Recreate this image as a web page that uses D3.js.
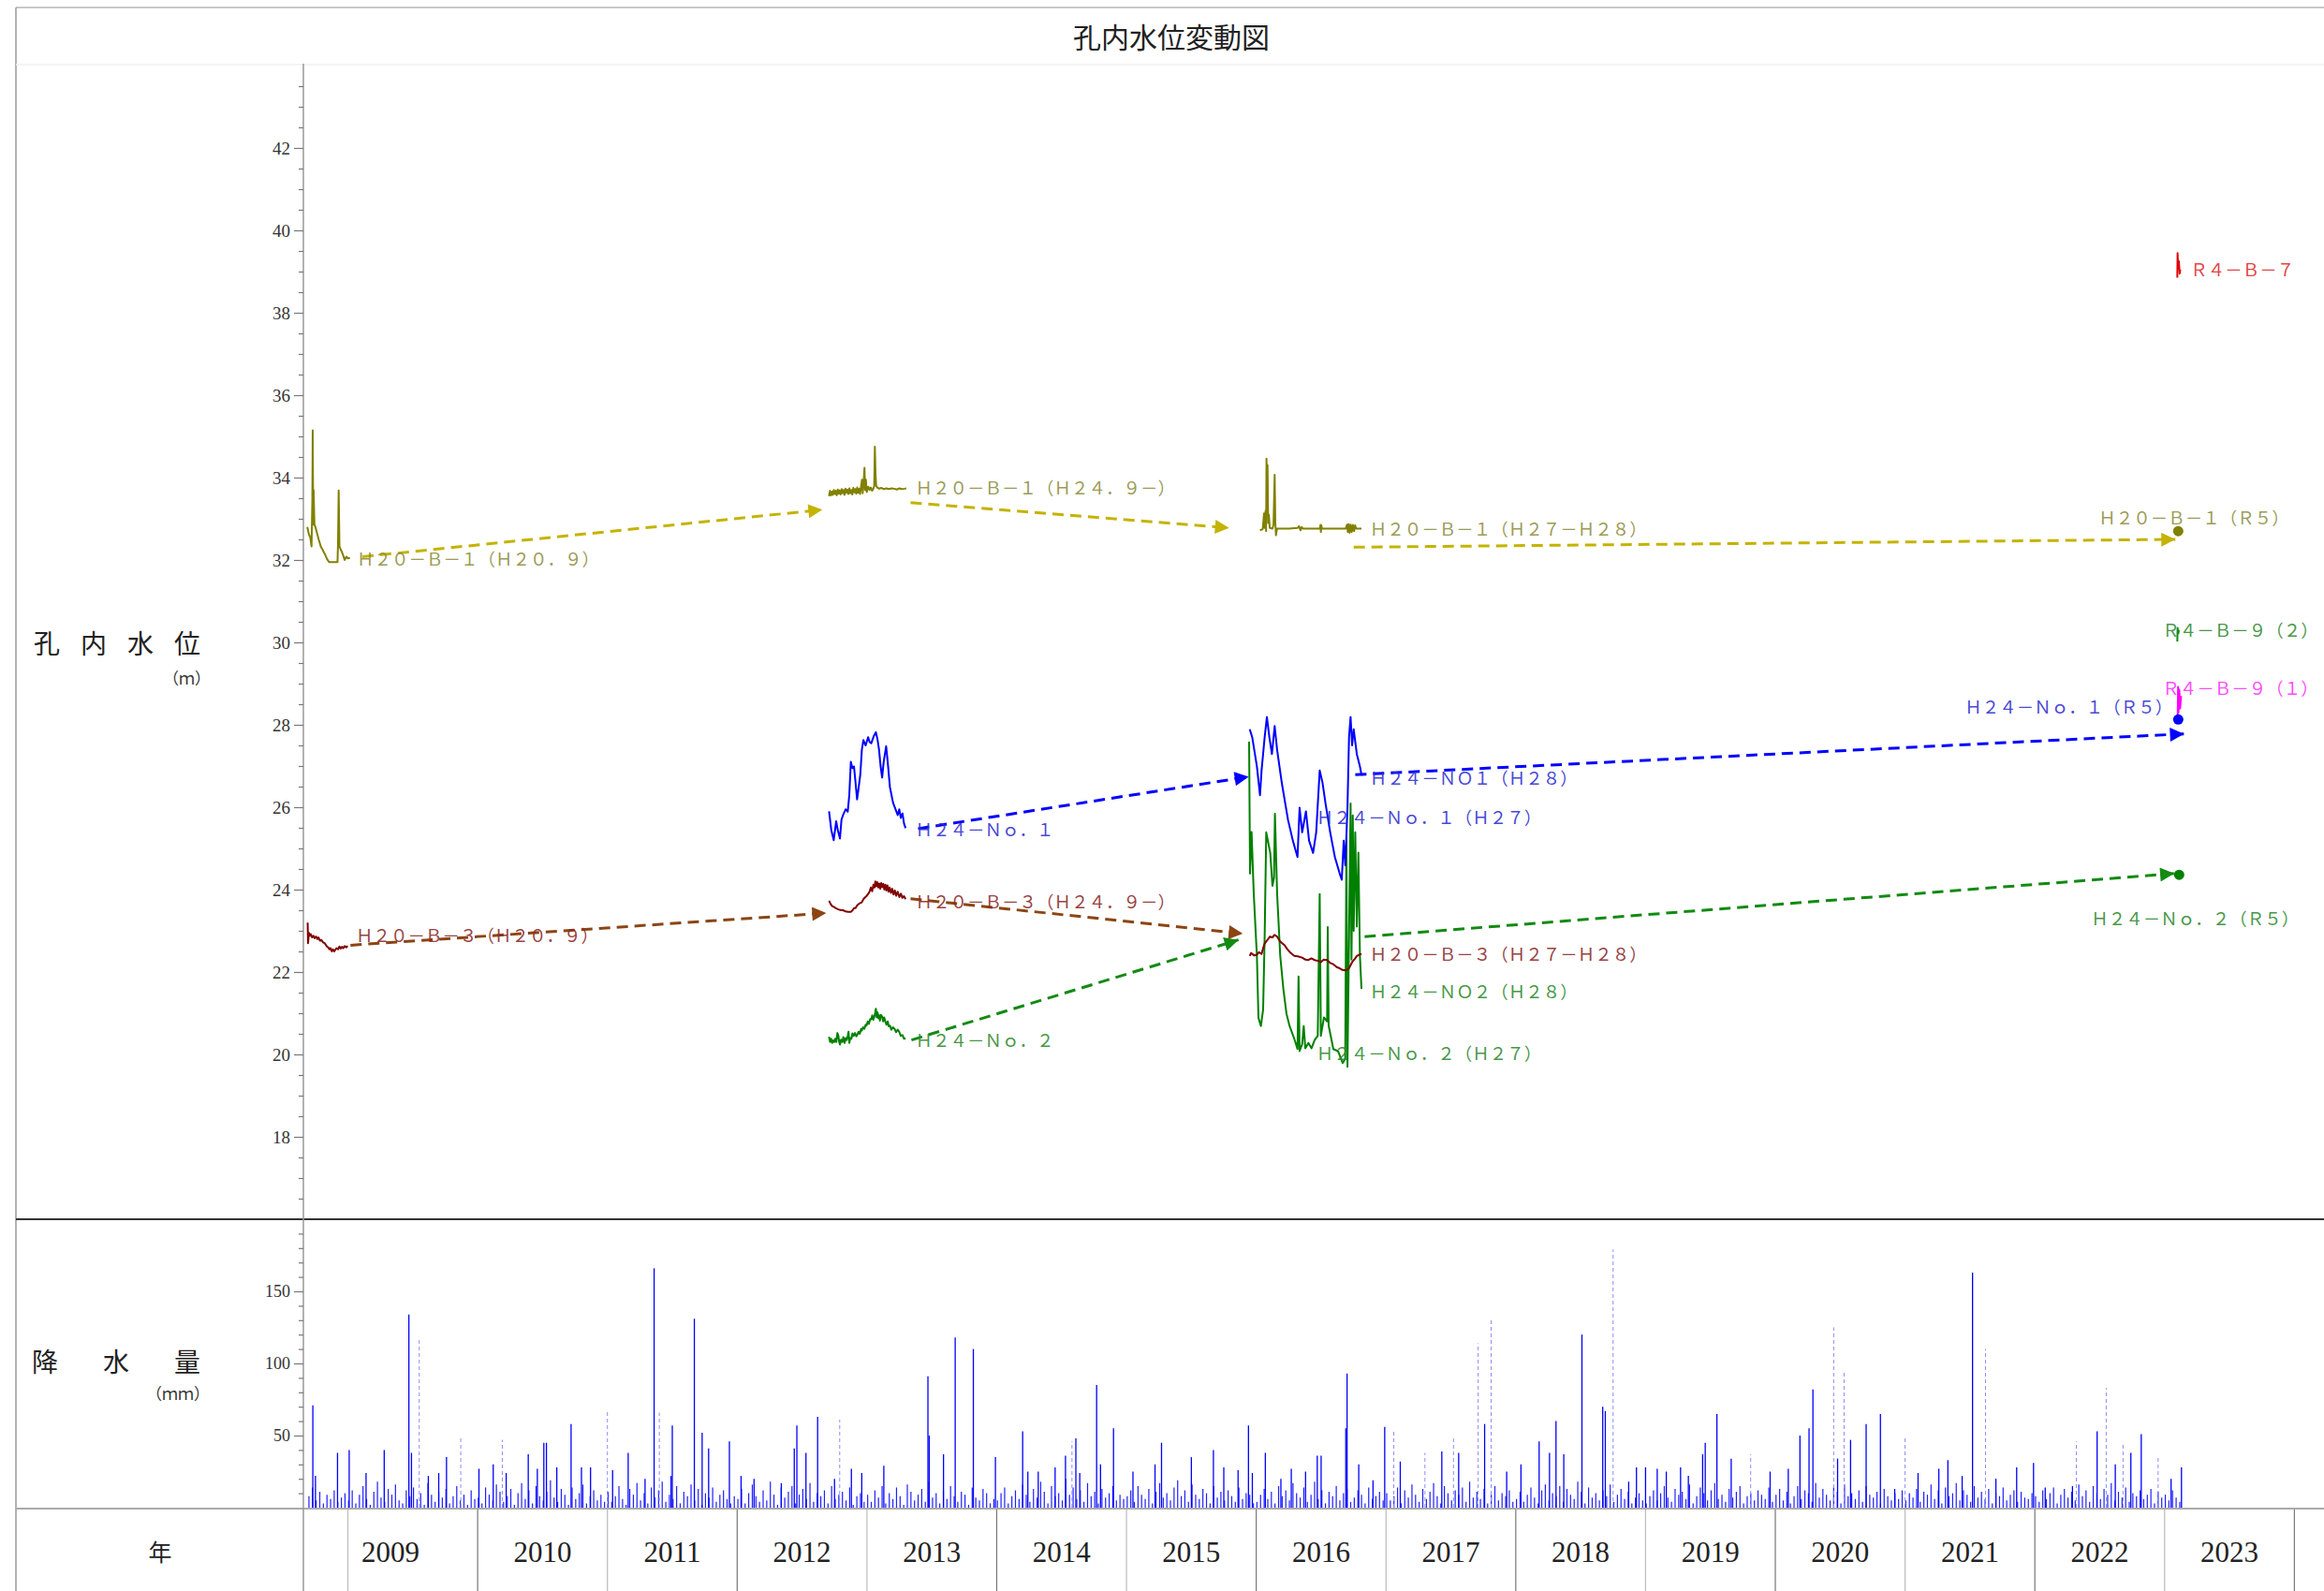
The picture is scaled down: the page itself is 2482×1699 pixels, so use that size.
<!DOCTYPE html>
<html><head><meta charset="utf-8">
<script src="https://cdn.jsdelivr.net/npm/d3@7"></script>
<style>
html,body{margin:0;padding:0;background:#fff;}
svg{display:block;}
</style></head><body>
<svg id="c" width="2482" height="1699"></svg>
<script>
// ---------------- DATA ----------------
const yearLabels = [2009,2010,2011,2012,2013,2014,2015,2016,2017,2018,2019,2020,2021,2022,2023];
const levelTicks = [18,20,22,24,26,28,30,32,34,36,38,40,42];
const rainTicks = [50,100,150];

// water level series [decimal year, m]
const wlB1_H20 = [[2008.687,32.80],[2008.700,32.62],[2008.710,32.55],[2008.720,32.33],[2008.726,33.46],[2008.729,35.15],[2008.733,32.86],[2008.736,33.70],[2008.742,32.86],[2008.750,32.80],[2008.758,32.70],[2008.775,32.50],[2008.791,32.33],[2008.805,32.25],[2008.823,32.14],[2008.840,32.02],[2008.855,31.95],[2008.920,31.95],[2008.924,32.40],[2008.929,33.69],[2008.935,32.33],[2008.945,32.25],[2008.953,32.20],[2008.965,32.10],[2008.975,32.00],[2008.988,32.08],[2009.000,32.04],[2009.016,32.05]];
const wlB1_H24 = [[2012.708,33.55],[2012.715,33.68],[2012.722,33.57],[2012.730,33.66],[2012.737,33.58],[2012.745,33.70],[2012.752,33.60],[2012.760,33.68],[2012.767,33.57],[2012.775,33.71],[2012.782,33.61],[2012.790,33.69],[2012.797,33.59],[2012.805,33.72],[2012.812,33.62],[2012.820,33.70],[2012.827,33.58],[2012.835,33.73],[2012.842,33.63],[2012.850,33.71],[2012.857,33.60],[2012.865,33.74],[2012.872,33.62],[2012.880,33.70],[2012.887,33.59],[2012.895,33.75],[2012.902,33.64],[2012.910,33.72],[2012.917,33.61],[2012.925,33.76],[2012.932,33.63],[2012.940,33.73],[2012.947,33.60],[2012.955,33.80],[2012.962,33.95],[2012.967,33.62],[2012.974,33.85],[2012.981,34.24],[2012.986,33.70],[2012.992,33.95],[2012.998,33.65],[2013.010,33.78],[2013.020,33.70],[2013.030,33.76],[2013.040,33.68],[2013.050,33.74],[2013.056,33.80],[2013.061,34.75],[2013.066,34.10],[2013.071,33.80],[2013.080,33.76],[2013.095,33.73],[2013.110,33.75],[2013.130,33.72],[2013.150,33.74],[2013.170,33.72],[2013.190,33.74],[2013.210,33.73],[2013.230,33.71],[2013.250,33.74],[2013.270,33.72],[2013.290,33.73],[2013.303,33.74]];
const wlB1_H27 = [[2016.029,32.72],[2016.050,32.75],[2016.060,33.13],[2016.065,32.78],[2016.072,33.20],[2016.076,32.70],[2016.079,34.46],[2016.083,33.60],[2016.087,34.30],[2016.092,32.90],[2016.097,33.10],[2016.104,32.78],[2016.125,32.76],[2016.133,32.85],[2016.142,34.07],[2016.147,32.90],[2016.152,32.60],[2016.160,32.76],[2016.250,32.76],[2016.320,32.78],[2016.330,32.82],[2016.341,32.72],[2016.350,32.80],[2016.360,32.76],[2016.490,32.76],[2016.495,32.85],[2016.498,32.68],[2016.502,32.84],[2016.506,32.76],[2016.690,32.76],[2016.700,32.86],[2016.706,32.68],[2016.712,32.87],[2016.720,32.66],[2016.728,32.86],[2016.736,32.68],[2016.745,32.85],[2016.754,32.70],[2016.762,32.84],[2016.770,32.76],[2016.811,32.76]];
const wlN1_H24 = [[2012.708,25.90],[2012.725,25.45],[2012.744,25.20],[2012.763,25.66],[2012.775,25.45],[2012.792,25.24],[2012.804,25.70],[2012.816,25.81],[2012.836,25.95],[2012.852,25.89],[2012.864,26.30],[2012.876,27.10],[2012.888,26.95],[2012.900,26.99],[2012.912,26.60],[2012.924,26.19],[2012.937,26.50],[2012.949,26.80],[2012.961,27.40],[2012.973,27.63],[2012.990,27.50],[2013.009,27.70],[2013.021,27.58],[2013.033,27.55],[2013.052,27.72],[2013.069,27.82],[2013.081,27.65],[2013.093,27.40],[2013.105,27.00],[2013.117,26.72],[2013.129,27.10],[2013.148,27.48],[2013.160,27.10],[2013.177,26.49],[2013.189,26.30],[2013.201,26.11],[2013.220,25.95],[2013.237,25.81],[2013.249,25.95],[2013.261,25.74],[2013.274,25.85],[2013.286,25.60],[2013.298,25.49]];
const wlN1_H27 = [[2015.950,27.89],[2015.969,27.70],[2016.005,26.99],[2016.029,26.29],[2016.041,26.89],[2016.065,27.70],[2016.082,28.19],[2016.101,27.70],[2016.121,27.29],[2016.142,27.97],[2016.161,27.39],[2016.197,26.59],[2016.245,25.69],[2016.282,25.19],[2016.318,24.79],[2016.334,25.99],[2016.354,25.39],[2016.383,25.90],[2016.407,25.19],[2016.438,24.89],[2016.462,25.39],[2016.489,26.89],[2016.511,26.59],[2016.534,26.09],[2016.570,25.39],[2016.606,24.79],[2016.643,24.39],[2016.659,24.24],[2016.674,25.19],[2016.686,24.59],[2016.703,25.99],[2016.715,27.70],[2016.727,28.19],[2016.739,27.50],[2016.751,27.89],[2016.775,27.29],[2016.799,26.99],[2016.811,26.79],[2016.823,26.79]];
const wlB3_H20 = [[2008.690,23.20],[2008.693,22.70],[2008.700,22.95],[2008.708,22.88],[2008.715,22.92],[2008.725,22.84],[2008.735,22.88],[2008.744,22.82],[2008.755,22.86],[2008.765,22.80],[2008.773,22.84],[2008.785,22.76],[2008.795,22.78],[2008.809,22.72],[2008.820,22.70],[2008.830,22.66],[2008.838,22.62],[2008.848,22.60],[2008.858,22.55],[2008.866,22.58],[2008.876,22.50],[2008.885,22.55],[2008.895,22.50],[2008.903,22.54],[2008.912,22.58],[2008.924,22.55],[2008.935,22.62],[2008.945,22.57],[2008.955,22.61],[2008.965,22.58],[2008.975,22.63],[2008.987,22.60],[2008.999,22.63]];
const wlB3_H24 = [[2012.708,23.73],[2012.720,23.65],[2012.732,23.60],[2012.744,23.58],[2012.760,23.55],[2012.780,23.52],[2012.800,23.50],[2012.816,23.50],[2012.835,23.47],[2012.855,23.46],[2012.876,23.46],[2012.890,23.50],[2012.900,23.55],[2012.912,23.55],[2012.925,23.62],[2012.940,23.66],[2012.960,23.69],[2012.975,23.78],[2012.988,23.82],[2012.996,23.84],[2013.010,23.90],[2013.020,23.95],[2013.030,24.05],[2013.040,23.96],[2013.050,24.12],[2013.058,24.05],[2013.065,24.20],[2013.072,24.08],[2013.080,24.18],[2013.088,24.05],[2013.095,24.15],[2013.103,24.02],[2013.110,24.16],[2013.118,24.06],[2013.126,24.14],[2013.134,24.00],[2013.142,24.12],[2013.150,23.98],[2013.158,24.10],[2013.166,23.95],[2013.175,24.05],[2013.185,23.92],[2013.195,24.02],[2013.205,23.88],[2013.215,23.98],[2013.225,23.85],[2013.237,23.95],[2013.250,23.82],[2013.262,23.90],[2013.273,23.80],[2013.285,23.84],[2013.298,23.77]];
const wlB3_H27 = [[2015.950,22.39],[2015.960,22.46],[2015.969,22.44],[2015.985,22.40],[2016.005,22.42],[2016.020,22.48],[2016.041,22.44],[2016.055,22.60],[2016.065,22.69],[2016.077,22.74],[2016.089,22.79],[2016.105,22.86],[2016.125,22.84],[2016.140,22.90],[2016.161,22.86],[2016.172,22.80],[2016.185,22.74],[2016.200,22.70],[2016.221,22.64],[2016.238,22.56],[2016.257,22.49],[2016.275,22.44],[2016.293,22.39],[2016.320,22.38],[2016.354,22.35],[2016.380,22.30],[2016.402,22.29],[2016.425,22.33],[2016.450,22.29],[2016.475,22.27],[2016.498,22.24],[2016.520,22.30],[2016.546,22.29],[2016.570,22.22],[2016.594,22.19],[2016.620,22.12],[2016.643,22.09],[2016.665,22.05],[2016.691,22.04],[2016.715,22.09],[2016.739,22.24],[2016.760,22.32],[2016.775,22.39],[2016.795,22.42],[2016.811,22.44]];
const wlN2_H24 = [[2012.708,20.43],[2012.716,20.30],[2012.724,20.38],[2012.732,20.28],[2012.740,20.34],[2012.748,20.30],[2012.756,20.38],[2012.764,20.30],[2012.772,20.52],[2012.780,20.45],[2012.786,20.30],[2012.792,20.24],[2012.800,20.36],[2012.810,20.30],[2012.818,20.42],[2012.828,20.28],[2012.836,20.40],[2012.844,20.35],[2012.852,20.45],[2012.858,20.55],[2012.864,20.28],[2012.872,20.40],[2012.880,20.38],[2012.888,20.51],[2012.898,20.45],[2012.908,20.52],[2012.918,20.44],[2012.925,20.47],[2012.935,20.55],[2012.945,20.50],[2012.955,20.62],[2012.961,20.58],[2012.970,20.66],[2012.980,20.62],[2012.990,20.72],[2012.997,20.70],[2013.006,20.80],[2013.015,20.74],[2013.025,20.86],[2013.033,20.85],[2013.041,20.95],[2013.049,20.84],[2013.057,20.92],[2013.063,21.00],[2013.069,21.11],[2013.075,20.90],[2013.082,21.02],[2013.088,20.88],[2013.093,20.95],[2013.100,20.82],[2013.108,20.96],[2013.117,20.92],[2013.125,20.80],[2013.133,20.90],[2013.141,20.81],[2013.150,20.72],[2013.160,20.80],[2013.168,20.68],[2013.177,20.70],[2013.188,20.60],[2013.200,20.66],[2013.213,20.62],[2013.225,20.54],[2013.237,20.60],[2013.249,20.55],[2013.260,20.45],[2013.274,20.47],[2013.286,20.38],[2013.298,20.39]];
const wlN2_H27 = [[2015.945,27.59],[2015.952,24.39],[2015.964,25.40],[2015.981,23.89],[2016.005,22.39],[2016.017,20.89],[2016.036,20.69],[2016.053,21.09],[2016.065,22.89],[2016.077,25.39],[2016.089,25.20],[2016.108,24.89],[2016.125,24.09],[2016.137,24.29],[2016.144,25.84],[2016.161,23.89],[2016.185,22.39],[2016.209,21.59],[2016.233,20.99],[2016.257,20.69],[2016.293,20.38],[2016.318,20.13],[2016.326,21.89],[2016.334,20.08],[2016.354,20.25],[2016.366,20.69],[2016.378,20.15],[2016.402,20.28],[2016.426,20.15],[2016.450,20.35],[2016.474,20.45],[2016.489,23.89],[2016.498,20.45],[2016.522,20.90],[2016.546,20.80],[2016.551,23.09],[2016.558,20.70],[2016.594,20.13],[2016.630,20.08],[2016.666,19.79],[2016.686,19.90],[2016.695,25.29],[2016.703,19.70],[2016.715,22.80],[2016.727,26.09],[2016.734,22.30],[2016.744,25.80],[2016.751,23.00],[2016.763,25.39],[2016.775,23.10],[2016.787,24.90],[2016.799,22.39],[2016.811,21.59]];
const wlB7_R4 = [[2023.098,38.85],[2023.100,39.45],[2023.104,39.10],[2023.110,39.25],[2023.116,38.95],[2023.121,39.05]];
const wlB9b_R4 = [[2023.098,30.02],[2023.100,30.35],[2023.106,30.22],[2023.110,30.30]];
const wlB9a_R4 = [[2023.101,28.20],[2023.104,28.92],[2023.107,28.30],[2023.113,28.85],[2023.120,28.40],[2023.127,28.70]];

// R5 single readings
const dotB1_R5 = [2023.105, 32.70];
const dotN1_R5 = [2023.105, 28.13];
const dotN2_R5 = [2023.112, 24.36];

// dashed arrows [from, to]
const arrowsB1 = [[[2009.112,32.08],[2012.657,33.22]],[[2013.336,33.39],[2015.791,32.78]],[[2016.751,32.31],[2023.083,32.50]]];
const arrowsB3 = [[[2009.020,22.65],[2012.686,23.43]],[[2013.336,23.78],[2015.896,22.93]]];
const arrowsN2 = [[[2013.343,20.35],[2015.863,22.78]],[[2016.835,22.86],[2023.074,24.39]]];
const arrowsN1 = [[[2013.394,25.48],[2015.942,26.74]],[[2016.763,26.79],[2023.150,27.78]]];

// labels
const labelTexts = ["Ｈ２０－Ｂ－１（Ｈ２０．９）","Ｈ２０－Ｂ－１（Ｈ２４．９－）","Ｈ２０－Ｂ－１（Ｈ２７－Ｈ２８）","Ｈ２０－Ｂ－１（Ｒ５）","Ｒ４－Ｂ－７","Ｒ４－Ｂ－９（２）","Ｒ４－Ｂ－９（１）","Ｈ２４－Ｎｏ．１（Ｒ５）","Ｈ２４－Ｎｏ．１","Ｈ２４－ＮＯ１（Ｈ２８）","Ｈ２４－Ｎｏ．１（Ｈ２７）","Ｈ２０－Ｂ－３（Ｈ２０．９）","Ｈ２０－Ｂ－３（Ｈ２４．９－）","Ｈ２０－Ｂ－３（Ｈ２７－Ｈ２８）","Ｈ２４－ＮＯ２（Ｈ２８）","Ｈ２４－Ｎｏ．２（Ｈ２７）","Ｈ２４－Ｎｏ．２","Ｈ２４－Ｎｏ．２（Ｒ５）"];
const labelAt = [[2009.069,32.04],[2013.372,33.77],[2016.874,32.77],[2022.491,33.04],[2023.199,39.06],[2022.982,30.31],[2022.982,28.91],[2023.061,28.45],[2013.372,25.47],[2016.874,26.72],[2016.462,25.77],[2009.061,22.90],[2013.372,23.73],[2016.874,22.45],[2016.874,21.55],[2016.462,20.04],[2013.372,20.36],[2022.433,23.31]];
const labelKind = ["B1","B1","B1","B1","B7","B9b","B9a","N1end","N1","N1","N1","B3","B3","B3","N2","N2","N2","N2"];

// precipitation (mm): small bars roughly every 10 days from 2008.70
const rainSmallStart = 2008.70;
const rainSmall = [8,14,5,11,3,9,6,12,4,7,10,
5,12,3,9,15,6,2,11,18,7,4,13,9,16,5,3,12,8,14,6,10,2,17,9,4,11,7,13,3,8,15,5,9,2,12,6,
7,3,14,9,5,16,11,4,8,13,2,10,17,6,12,3,15,8,5,11,19,7,4,13,9,2,14,6,10,16,3,8,12,5,9,4,
11,4,8,15,6,2,13,9,17,5,10,3,14,7,12,18,4,9,6,15,3,11,8,16,5,13,2,10,7,14,4,9,12,6,3,8,
6,13,3,10,16,8,4,12,5,18,9,2,14,7,11,15,3,9,13,6,17,4,10,8,12,3,15,6,9,11,5,14,2,8,10,4,
9,4,12,7,15,3,10,6,14,8,2,16,11,5,9,13,4,18,7,10,3,12,6,15,8,4,11,9,2,14,7,5,13,10,3,6,
5,10,14,3,8,12,6,16,9,4,13,7,18,11,3,15,8,10,5,20,9,14,6,12,4,17,8,11,3,13,7,10,15,5,9,6,
8,12,4,15,9,6,13,3,11,17,7,10,5,14,19,8,12,4,16,9,6,13,10,3,15,7,11,5,12,8,4,14,6,10,9,3,
4,9,13,6,11,3,15,8,12,5,17,10,7,14,4,9,18,6,12,3,11,8,15,5,10,13,4,7,12,9,3,14,6,8,11,5,
10,5,8,14,3,12,7,16,9,4,13,6,11,17,8,3,15,10,5,12,9,14,4,18,7,11,6,13,3,9,15,5,10,8,12,4,
6,11,4,9,14,7,3,12,16,5,10,8,15,4,13,9,6,18,11,3,14,7,10,5,12,8,16,4,9,13,6,11,3,7,10,5,
3,8,12,5,10,15,7,4,13,9,11,6,16,3,8,14,10,5,12,17,6,9,4,13,7,11,15,3,8,10,5,12,9,6,14,4,
9,13,5,11,3,8,15,6,12,10,4,17,7,13,9,5,14,11,3,16,8,10,6,12,4,15,9,7,11,3,13,8,5,10,6,12,
5,10,7,13,4,11,9,16,6,12,3,14,8,10,17,5,12,9,4,15,7,11,6,13,3,10,8,14,5,9,12,4,11,7,6,10,
8,4,12,6,10,14,3,9,13,7,11,5,16,8,12,4,15,10,6,13,9,17,5,11,7,14,4,10,8,12,6,9,13,3,11,7,
9,5,12,7,4];
// main gauge peaks [decimal year, mm]
const rainPeaks = [[2008.73,71],[2008.75,22],[2008.92,38],
[2009.01,40],[2009.14,24],[2009.28,40],[2009.47,134],[2009.49,38],[2009.62,22],[2009.70,24],[2009.76,35],
[2010.01,27],[2010.12,30],[2010.22,24],[2010.39,37],[2010.46,27],[2010.51,45],[2010.53,45],[2010.61,28],[2010.72,58],[2010.80,28],[2010.87,28],
[2011.04,26],[2011.16,38],[2011.29,20],[2011.36,166],[2011.49,22],[2011.50,57],[2011.67,131],[2011.73,52],[2011.78,41],[2011.94,46],
[2012.03,22],[2012.13,20],[2012.34,17],[2012.44,41],[2012.46,57],[2012.53,38],[2012.62,63],[2012.75,20],[2012.88,27],[2012.96,24],
[2013.13,29],[2013.47,91],[2013.48,50],[2013.59,37],[2013.68,118],[2013.82,110],[2013.99,35],
[2014.20,53],[2014.24,25],[2014.32,25],[2014.45,28],[2014.53,36],[2014.61,48],[2014.64,24],[2014.77,85],[2014.80,30],[2014.90,55],
[2015.05,25],[2015.22,30],[2015.27,45],[2015.50,35],[2015.67,40],[2015.75,28],[2015.86,26],[2015.94,57],[2015.97,24],
[2016.07,38],[2016.19,20],[2016.27,27],[2016.38,25],[2016.47,36],[2016.50,36],[2016.69,55],[2016.70,93],[2016.79,30],[2016.90,19],[2016.99,56],
[2017.11,32],[2017.43,39],[2017.56,38],[2017.76,58],[2017.93,25],
[2018.04,30],[2018.18,46],[2018.26,38],[2018.31,60],[2018.37,37],[2018.51,120],[2018.67,70],[2018.69,67],[2018.87,18],[2018.93,28],
[2019.00,28],[2019.09,27],[2019.16,25],[2019.27,28],[2019.33,22],[2019.44,37],[2019.46,45],[2019.55,65],[2019.66,34],[2019.96,25],
[2020.10,27],[2020.19,50],[2020.26,55],[2020.29,82],[2020.48,34],[2020.58,47],[2020.70,58],[2020.81,65],[2020.92,13],
[2021.10,24],[2021.26,27],[2021.33,33],[2021.44,22],[2021.52,163],[2021.70,20],[2021.86,28],[2021.99,31],
[2022.08,14],[2022.29,15],[2022.48,53],[2022.62,30],[2022.74,38],[2022.82,51],
[2023.05,20],[2023.13,28]];
// second gauge (drawn light / dashed)
const rainLight = [[2009.55,118],[2009.87,50],[2010.19,47],[2011.00,67],[2011.40,66],[2012.79,61],[2014.58,46],[2017.06,54],[2017.30,38],[2017.52,48],[2017.71,114],[2017.81,130],[2018.75,179],[2019.81,37],[2020.45,125],[2020.53,95],[2021.00,48],[2021.62,110],[2022.32,46],[2022.55,83],[2022.68,45],[2022.95,36]];

// ---------------- DRAW ----------------
const svg = d3.select("#c");
const W = 2482, H = 1699;
const JP = "'Noto Sans CJK JP', sans-serif";
const SERIF = "'Liberation Serif', 'DejaVu Serif', serif";

const x = d3.scaleLinear().domain([2008.657, 2024.25]).range([324, 2485]);
const yW = d3.scaleLinear().domain([16, 44]).range([1302, 70]);
const yR = d3.scaleLinear().domain([0, 200]).range([1610, 1302]);

const col = {
  B1: "#808000", B1a: "#c4b300", B1t: "#8e8e3e",
  B3: "#800000", B3a: "#8b4513", B3t: "#8a2a2a",
  N1: "#0000ff", N1a: "#0000ff", N1t: "#3030d0",
  N2: "#008000", N2a: "#138a13", N2t: "#2e8a2e",
  B7: "#e00000", B7t: "#e02a2a",
  B9a: "#ff00ff", B9at: "#ff33ff",
  B9b: "#138a13", B9bt: "#2e8a2e"
};

// frame
svg.append("line").attr("x1",17).attr("x2",W).attr("y1",8).attr("y2",8).attr("stroke","#c8c8c8").attr("stroke-width",2);
svg.append("line").attr("x1",17).attr("x2",17).attr("y1",8).attr("y2",H).attr("stroke","#999").attr("stroke-width",1.5);
svg.append("line").attr("x1",17).attr("x2",W).attr("y1",69).attr("y2",69).attr("stroke","#f0f0f0").attr("stroke-width",1.5);

// title
svg.append("text").attr("x",1251).attr("y",38).attr("text-anchor","middle").attr("dominant-baseline","central")
  .attr("font-family",JP).attr("font-size",30).attr("fill","#222").text("孔内水位変動図");

// left titles
svg.append("text").attr("x",36).attr("y",686).attr("dominant-baseline","central").attr("font-family",JP)
  .attr("font-size",28).attr("letter-spacing",22).attr("fill","#222").text("孔内水位");
svg.append("text").attr("x",174).attr("y",723).attr("dominant-baseline","central").attr("font-family",JP)
  .attr("font-size",17).attr("fill","#333").text("（ｍ）");
svg.append("text").attr("x",34).attr("y",1453).attr("dominant-baseline","central").attr("font-family",JP)
  .attr("font-size",28).attr("letter-spacing",48).attr("fill","#222").text("降水量");
svg.append("text").attr("x",156).attr("y",1487).attr("dominant-baseline","central").attr("font-family",JP)
  .attr("font-size",17).attr("fill","#333").text("（ｍｍ）");
svg.append("text").attr("x",171).attr("y",1656).attr("text-anchor","middle").attr("dominant-baseline","central").attr("font-family",JP)
  .attr("font-size",25).attr("fill","#222").text("年");

// precipitation bars
const gR = svg.append("g");
gR.selectAll("line.small").data(rainSmall).join("line").attr("class","small")
  .attr("x1",(d,i)=>x(rainSmallStart + i/36)).attr("x2",(d,i)=>x(rainSmallStart + i/36))
  .attr("y1",yR(0)).attr("y2",d=>yR(d)).attr("stroke","#2020ff").attr("stroke-width",1.2);
gR.selectAll("line.light").data(rainLight).join("line").attr("class","light")
  .attr("x1",d=>x(d[0])).attr("x2",d=>x(d[0])).attr("y1",yR(0)).attr("y2",d=>yR(d[1]))
  .attr("stroke","#8c8cff").attr("stroke-width",1).attr("stroke-dasharray","4,3");
gR.selectAll("line.peak").data(rainPeaks).join("line").attr("class","peak")
  .attr("x1",d=>x(d[0])).attr("x2",d=>x(d[0])).attr("y1",yR(0)).attr("y2",d=>yR(d[1]))
  .attr("stroke","#0000ff").attr("stroke-width",1.3);

// panel separators
svg.append("line").attr("x1",17).attr("x2",W).attr("y1",1302).attr("y2",1302).attr("stroke","#333").attr("stroke-width",2);
svg.append("line").attr("x1",17).attr("x2",W).attr("y1",1611).attr("y2",1611).attr("stroke","#aaa").attr("stroke-width",2);

// year band
d3.range(2009, 2025).forEach((yr,i)=>{
  svg.append("line").attr("x1",x(yr)).attr("x2",x(yr)).attr("y1",1612).attr("y2",H)
    .attr("stroke", i%2 ? "#777" : "#bbb").attr("stroke-width",1.2);
});
svg.selectAll("text.yr").data(yearLabels).join("text").attr("class","yr")
  .attr("x",d=> d===2009 ? (x.range()[0]+x(2010))/2 : x(d+0.5))
  .attr("y",1657).attr("text-anchor","middle").attr("dominant-baseline","central")
  .attr("font-family",SERIF).attr("font-size",31).attr("fill","#222").text(d=>d);

// y axis line
svg.append("line").attr("x1",324).attr("x2",324).attr("y1",68).attr("y2",H).attr("stroke","#999").attr("stroke-width",1.5);

function styleAxis(g){
  g.select(".domain").remove();
  g.selectAll(".tick line").attr("stroke","#777").attr("stroke-width",1.2);
  g.selectAll(".tick text").attr("font-family",SERIF).attr("font-size",19).attr("fill","#333");
}
svg.append("g").attr("transform","translate(324,0)")
  .call(d3.axisLeft(yW).tickValues(d3.range(16.5,44,0.5).filter(v=>levelTicks.indexOf(v)<0)).tickSize(5).tickFormat(""))
  .call(styleAxis);
svg.append("g").attr("transform","translate(324,0)")
  .call(d3.axisLeft(yW).tickValues(levelTicks).tickSize(10).tickPadding(4).tickFormat(d3.format("d")))
  .call(styleAxis);
svg.append("g").attr("transform","translate(324,0)")
  .call(d3.axisLeft(yR).tickValues(d3.range(10,200,10).filter(v=>rainTicks.indexOf(v)<0)).tickSize(5).tickFormat(""))
  .call(styleAxis);
svg.append("g").attr("transform","translate(324,0)")
  .call(d3.axisLeft(yR).tickValues(rainTicks).tickSize(10).tickPadding(4).tickFormat(d3.format("d")))
  .call(styleAxis).call(g=>g.selectAll(".tick text").attr("font-size",18));

// arrow markers
const defs = svg.append("defs");
[["B1",col.B1a],["B3",col.B3a],["N1",col.N1a],["N2",col.N2a]].forEach(([k,c])=>{
  defs.append("marker").attr("id","ah"+k).attr("viewBox","0 0 10 10").attr("refX",10).attr("refY",5)
    .attr("markerWidth",16).attr("markerHeight",15).attr("markerUnits","userSpaceOnUse").attr("orient","auto")
    .append("path").attr("d","M0,0L10,5L0,10Z").attr("fill",c);
});

const line = d3.line().x(d=>x(d[0])).y(d=>yW(d[1]));
const gL = svg.append("g");
function drawArrows(arr,k,c){
  gL.selectAll(null).data(arr).join("path").attr("d",d=>line(d)).attr("fill","none")
    .attr("stroke",c).attr("stroke-width",3).attr("stroke-dasharray","12,7").attr("marker-end","url(#ah"+k+")");
}
drawArrows(arrowsB1,"B1",col.B1a);
drawArrows(arrowsB3,"B3",col.B3a);
drawArrows(arrowsN2,"N2",col.N2a);
drawArrows(arrowsN1,"N1",col.N1a);

const series = [
  [wlN2_H24,col.N2],[wlN2_H27,col.N2],
  [wlB3_H20,col.B3],[wlB3_H24,col.B3],[wlB3_H27,col.B3],
  [wlN1_H24,col.N1],[wlN1_H27,col.N1],
  [wlB1_H20,col.B1],[wlB1_H24,col.B1],[wlB1_H27,col.B1],
  [wlB7_R4,col.B7],[wlB9b_R4,col.B9b],[wlB9a_R4,col.B9a]
];
series.forEach(([d,c])=>{
  gL.append("path").datum(d).attr("d",line).attr("fill","none").attr("stroke",c)
    .attr("stroke-width",2).attr("stroke-linejoin","round");
});

[[dotB1_R5,col.B1],[dotN1_R5,col.N1],[dotN2_R5,col.N2]].forEach(([d,c])=>{
  gL.append("circle").attr("cx",x(d[0])).attr("cy",yW(d[1])).attr("r",5.5).attr("fill",c);
});

// labels
const kindColor = {B1:col.B1t,B3:col.B3t,N1:col.N1t,N1end:col.N1t,N2:col.N2t,B7:col.B7t,B9a:col.B9at,B9b:col.B9bt};
svg.append("g").selectAll("text").data(labelTexts).join("text")
  .attr("x",(d,i)=>x(labelAt[i][0])).attr("y",(d,i)=>yW(labelAt[i][1]))
  .attr("text-anchor",(d,i)=>labelKind[i]==="N1end"?"end":"start")
  .attr("dominant-baseline","central").attr("font-family",JP).attr("font-size",18.5)
  .attr("fill",(d,i)=>kindColor[labelKind[i]]).attr("fill-opacity",0.9).text(d=>d);
</script></body></html>
